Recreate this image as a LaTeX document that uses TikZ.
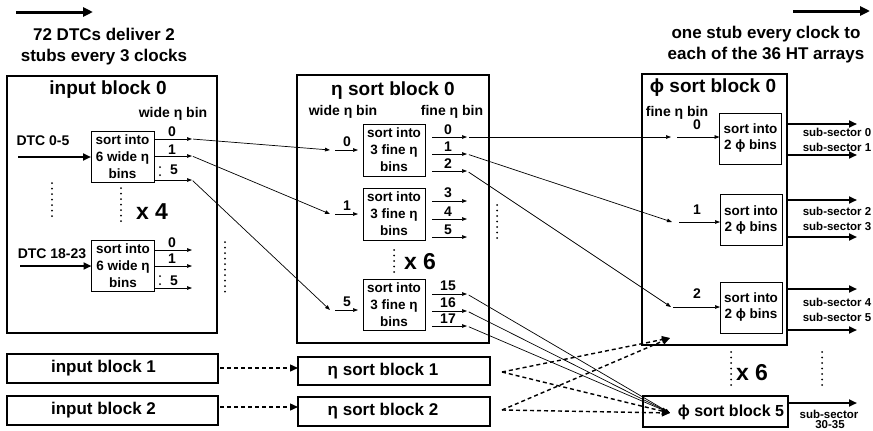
\documentclass[tikz,border=0pt]{standalone}
\usepackage{fontspec}
\setmainfont{Liberation Sans}
\usetikzlibrary{arrows.meta}
\newcommand\ftitle{\fontsize{19}{22}\selectfont\bfseries}
\newcommand\fsort{\fontsize{13.5}{17}\selectfont\bfseries}
\newcommand\fsortb{\fontsize{13.5}{16}\selectfont\bfseries}
\newcommand\flab{\fontsize{14}{16}\selectfont\bfseries}
\newcommand\fbig{\fontsize{23}{26}\selectfont\bfseries}
\newcommand\fhead{\fontsize{17}{21}\selectfont\bfseries}
\newcommand\fbot{\fontsize{17}{20}\selectfont\bfseries}
\newcommand\fpfive{\fontsize{16}{20}\selectfont\bfseries}
\newcommand\fsub{\fontsize{11.5}{13}\selectfont\bfseries}
\begin{document}
\begin{tikzpicture}[x=1pt,y=-1pt,
  every node/.style={inner sep=0pt, outer sep=0pt},
  blk/.style={draw, line width=1.2pt},
  sortbox/.style={draw, line width=1pt, minimum width=63pt, minimum height=51pt, align=center, font=\fsort},
  phibox/.style={draw, line width=1pt, minimum width=62pt, minimum height=51pt, align=center, font=\fsortb},
  thinarr/.style={line width=0.7pt, -{Triangle[length=5pt,width=3.6pt]}},
  thickarr/.style={line width=2pt, -{Triangle[length=8pt,width=7pt]}},
  toparr/.style={line width=3pt, -{Triangle[length=10pt,width=9pt]}},
  dasharr/.style={line width=1.4pt, dash pattern=on 4pt off 3pt, -{Triangle[length=8pt,width=7pt]}},
  dotcol/.style={line width=2pt, line cap=round, dash pattern=on 0pt off 5.5pt},
  lab/.style={font=\flab},
  sub/.style={font=\fsub},
]
\useasboundingbox (0,0) rectangle (873,431);

% ---------- headers ----------
\coordinate (tlA) at (16,12); \coordinate (tlB) at (93,12);
\draw[toparr] (tlA) -- (tlB);
\node[font=\fhead, align=center] (hdrL) at (104,46.5) {72 DTCs deliver 2\\stubs every 3 clocks};
\coordinate (trA) at (793,11); \coordinate (trB) at (870,11);
\draw[toparr] (trA) -- (trB);
\node[font=\fhead, align=center] (hdrR) at (766,44.5) {one stub every clock to\\each of the 36 HT arrays};

% ---------- input block 0 ----------
\node[blk, minimum width=210pt, minimum height=257pt] (ib0) at (112,204.5) {};
\node[font=\ftitle] (ib0t) at (108,90) {input block 0};
\node[lab] (ib0w) at (173,114) {wide η bin};
\node[sortbox] (s1) at (122.5,156.5) {sort into\\6 wide η\\bins};
\node[sortbox] (s2) at (123,266) {sort into\\6 wide η\\bins};

\coordinate (s1o0) at (192,139); \coordinate (s1o1) at (192,156); \coordinate (s1o5) at (192,180);
\draw[thinarr] (s1.east |- s1o0) -- (s1o0);
\draw[thinarr] (s1.east |- s1o1) -- (s1o1);
\draw[thinarr] (s1.east |- s1o5) -- (s1o5);
\node[lab] (s1l0) at (172,132) {0};
\node[lab] (s1l1) at (172,150) {1};
\node[lab] (s1l5) at (174,170) {5};
\fill (160,167) circle (1pt); \fill (160,175) circle (1pt);

\coordinate (s2o0) at (192,250); \coordinate (s2o1) at (192,266); \coordinate (s2o5) at (192,288);
\draw[thinarr] (s2.east |- s2o0) -- (s2o0);
\draw[thinarr] (s2.east |- s2o1) -- (s2o1);
\draw[thinarr] (s2.east |- s2o5) -- (s2o5);
\node[lab] (s2l0) at (172,243) {0};
\node[lab] (s2l1) at (172,259) {1};
\node[lab] (s2l5) at (174,281) {5};
\fill (160,276) circle (1pt); \fill (160,284) circle (1pt);

\node[lab] (dtc1) at (43,141) {DTC 0-5};
\coordinate (dtc1a) at (18,157);
\draw[thickarr] (dtc1a) -- (s1.west |- dtc1a);
\node[lab] (dtc2) at (52,254) {DTC 18-23};
\coordinate (dtc2a) at (20,266);
\draw[thickarr] (dtc2a) -- (s2.west |- dtc2a);

\draw[dotcol] (52,183) -- (52,221);
\draw[dotcol] (121,188) -- (121,224);
\draw[dotcol] (225,242) -- (225,293);
\node[font=\fbig] (x4) at (152,212) {x 4};

% ---------- eta sort block 0 ----------
\node[blk, minimum width=192pt, minimum height=268pt] (eb0) at (393,209) {};
\node[font=\ftitle] (eb0t) at (393,91) {η sort block 0};
\node[lab] (eb0w) at (343,112) {wide η bin};
\node[lab] (eb0f) at (452,112) {fine η bin};
\node[sortbox, minimum width=62pt, minimum height=52pt] (A) at (394,150) {sort into\\3 fine η\\bins};
\node[sortbox, minimum width=62pt, minimum height=52pt] (B) at (394,214) {sort into\\3 fine η\\bins};
\node[sortbox, minimum width=62pt, minimum height=51pt] (C) at (394,304.5) {sort into\\3 fine η\\bins};

\coordinate (ein0) at (330,150); \coordinate (ein1) at (330,214); \coordinate (ein5) at (330,310);
\coordinate (ea0) at (335,150); \coordinate (ea1) at (335,214); \coordinate (ea5) at (335,310);
\draw[thinarr, shorten >=5pt] (ea0) -- (A.west |- ea0);
\draw[thinarr, shorten >=5pt] (ea1) -- (B.west |- ea1);
\draw[thinarr, shorten >=5pt] (ea5) -- (C.west |- ea5);
\node[lab] (eal0) at (347,142) {0};
\node[lab] (eal1) at (347,206) {1};
\node[lab] (eal5) at (347,302) {5};

\draw[thinarr, shorten <=1pt] (s1o0) -- (ein0);
\draw[thinarr, shorten <=1pt] (s1o1) -- (ein1);
\draw[thinarr, shorten <=1pt] (s1o5) -- (ein5);

\coordinate (eA0) at (467,137); \coordinate (eA1) at (467,154); \coordinate (eA2) at (467,171);
\coordinate (eB0) at (467,201); \coordinate (eB1) at (467,219); \coordinate (eB2) at (467,237);
\coordinate (eC0) at (467,294); \coordinate (eC1) at (467,311); \coordinate (eC2) at (467,326);
\foreach \b/\c in {A/eA0,A/eA1,A/eA2,B/eB0,B/eB1,B/eB2,C/eC0,C/eC1,C/eC2}
  \draw[thinarr] ([xshift=7pt]\b.east |- \c) -- (\c);
\node[lab] (lA0) at (448,130) {0};
\node[lab] (lA1) at (448,147) {1};
\node[lab] (lA2) at (448,164) {2};
\node[lab] (lB0) at (448,193) {3};
\node[lab] (lB1) at (448,212) {4};
\node[lab] (lB2) at (448,230) {5};
\node[lab] (lC0) at (448,286) {15};
\node[lab] (lC1) at (448,303) {16};
\node[lab] (lC2) at (448,319) {17};

\draw[dotcol] (394,250) -- (394,273);
\node[font=\fbig] (x6a) at (420,262) {x 6};
\draw[dotcol] (497,205) -- (497,238);

% ---------- phi sort block 0 ----------
\node[blk, minimum width=145pt, minimum height=271pt] (pb0) at (714.5,209.5) {};
\node[font=\ftitle] (pb0t) at (713,88) {ϕ sort block 0};
\node[lab] (pb0f) at (677,113) {fine η bin};
\node[phibox] (P1) at (750.5,138.5) {sort into\\2 ϕ bins};
\node[phibox] (P2) at (751,220) {sort into\\2 ϕ bins};
\node[phibox] (P3) at (751,307.5) {sort into\\2 ϕ bins};

\coordinate (pin0) at (677,137); \coordinate (pin1) at (679,222); \coordinate (pin2) at (673,307);
\draw[thinarr] (pin0) -- (P1.west |- pin0);
\draw[thinarr] (pin1) -- (P2.west |- pin1);
\draw[thinarr] (pin2) -- (P3.west |- pin2);
\node[lab] (pl0) at (697,125) {0};
\node[lab] (pl1) at (697,210) {1};
\node[lab] (pl2) at (697,294) {2};

\coordinate (pe0) at (671,137); \coordinate (pe1) at (672,222); \coordinate (pe2) at (671,307);
\draw[thinarr, shorten <=2pt] (eA0) -- (pe0);
\draw[thinarr, shorten <=2pt] (eA1) -- (pe1);
\draw[thinarr, shorten <=2pt] (eA2) -- (pe2);

\foreach \y/\n in {124/a,155/b,200/c,237/d,289/e,330/f}{
  \coordinate (po\n) at (857,\y);
  \draw[thickarr] (pb0.east |- po\n) -- (po\n);
}
\node[sub] (ss0) at (837,132) {sub-sector 0};
\node[sub] (ss1) at (837,147) {sub-sector 1};
\node[sub] (ss2) at (837,211) {sub-sector 2};
\node[sub] (ss3) at (837,226) {sub-sector 3};
\node[sub] (ss4) at (837,302) {sub-sector 4};
\node[sub] (ss5) at (837,317) {sub-sector 5};

\draw[dotcol] (731,352) -- (731,389);
\node[font=\fbig] (x6b) at (752,373) {x 6};
\draw[dotcol] (822,352) -- (822,389);

% ---------- phi sort block 5 ----------
\node[blk, minimum width=145pt, minimum height=31pt] (pb5) at (715.5,411.5) {};
\node[font=\fpfive] (pb5t) at (731,412) {ϕ sort block 5};
\coordinate (p5o) at (857,403);
\draw[thickarr] (pb5.east |- p5o) -- (p5o);
\node[sub] (ss30) at (829,414) {sub-sector};
\node[sub] (ss30b) at (830,425) {30-35};

% ---------- bottom blocks ----------
\node[blk, minimum width=211pt, minimum height=29pt] (ib1) at (112.5,368.5) {};
\node[font=\fbot] (ib1t) at (103.5,368.5) {input block 1};
\node[blk, minimum width=211pt, minimum height=29pt] (ib2) at (112.5,410.5) {};
\node[font=\fbot] (ib2t) at (103.5,410.5) {input block 2};
\node[blk, minimum width=192pt, minimum height=28pt] (eb1) at (394,371) {};
\node[font=\fbot] (eb1t) at (383,371) {η sort block 1};
\node[blk, minimum width=192pt, minimum height=29pt] (eb2) at (394,411.5) {};
\node[font=\fbot] (eb2t) at (383,411.5) {η sort block 2};

\coordinate (ib1a) at ([xshift=2pt]ib1.east |- 0,368);
\coordinate (ib2a) at ([xshift=2pt]ib2.east |- 0,407);
\draw[dasharr] (ib1a) -- (eb1.west |- ib1a);
\draw[dasharr] (ib2a) -- (eb2.west |- ib2a);

\coordinate (e1s) at ([xshift=12pt]eb1.east |- 0,372);
\coordinate (e2s) at ([xshift=12pt]eb2.east |- 0,410);
\coordinate (pb0in) at (670,338);
\coordinate (p5in) at (670,413);
\draw[dasharr] (e1s) -- (pb0in);
\draw[dasharr] (e1s) -- (p5in);
\draw[dasharr] (e2s) -- (pb0in);
\draw[dasharr] (e2s) -- (p5in);

\draw[thinarr, shorten <=2pt] (eC0) -- (p5in);
\draw[thinarr, shorten <=2pt] (eC1) -- (p5in);
\draw[thinarr, shorten <=2pt] (eC2) -- (p5in);
\end{tikzpicture}
\end{document}
